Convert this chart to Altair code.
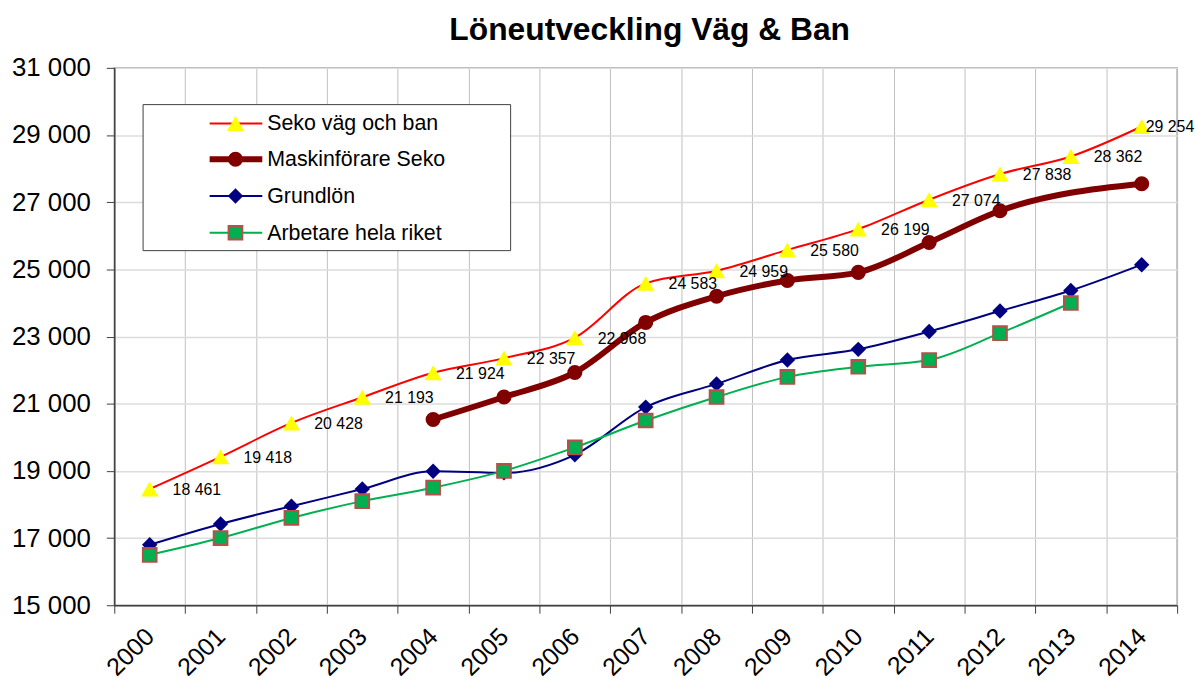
import altair as alt
import pandas as pd

years = list(range(2000, 2015))
series_names = ["Seko väg och ban", "Maskinförare Seko", "Grundlön", "Arbetare hela riket"]
seko = [18461, 19418, 20428, 21193, 21924, 22357, 22968, 24583, 24959, 25580, 26199, 27074, 27838, 28362, 29254]
maskin = [None, None, None, None, 20530, 21200, 21930, 23420, 24200, 24670, 24910, 25800, 26745, None, 27550]
grund = [16800, 17420, 17950, 18460, 18990, 18940, 19480, 20900, 21590, 22300, 22620, 23150, 23760, 24370, 25140]
arbet = [16500, 17000, 17600, 18100, 18500, 19000, 19700, 20500, 21200, 21800, 22100, 22300, 23100, 24000, None]
title_text = "Löneutveckling Väg & Ban"

FONT = "Liberation Sans"

rows = []
for name, vals in zip(series_names, [seko, maskin, grund, arbet]):
    for yr, v in zip(years, vals):
        if v is not None:
            rows.append({"year": yr, "value": v, "series": name})
df = pd.DataFrame(rows)

x_enc = alt.X(
    "year:O",
    scale=alt.Scale(type="band", paddingInner=0, paddingOuter=0),
    axis=alt.Axis(
        title=None, tickBand="extent", grid=True, gridColor="#c0c0c0", gridWidth=1,
        labelAngle=315, labelAlign="right", labelBaseline="middle",
        labelFontSize=25, labelPadding=19, labelFont=FONT, labelColor="black",
        tickSize=8, tickColor="#404040", domainColor="#404040", domainWidth=1.5,
    ),
)
y_enc = alt.Y(
    "value:Q",
    scale=alt.Scale(domain=[15000, 31000], nice=False, zero=False),
    axis=alt.Axis(
        title=None, values=list(range(15000, 31001, 2000)),
        labelExpr="replace(format(datum.value, ','), ',', ' ')",
        grid=True, gridColor="#dcdcdc", gridWidth=1.5,
        labelFontSize=26, labelPadding=16, labelFont=FONT, labelColor="black",
        tickSize=8, tickColor="#404040", domainColor="#404040", domainWidth=1.5,
    ),
)

base = alt.Chart(df).encode(x=x_enc, y=y_enc)


def sub(name):
    return base.transform_filter(alt.datum.series == name)


styles = {
    "Seko väg och ban": dict(line="#FF0000", lw=2, shape="triangle-up", fill="#FFFF00", stroke=None, size=300),
    "Maskinförare Seko": dict(line="#800000", lw=6, shape="circle", fill="#800000", stroke=None, size=230),
    "Grundlön": dict(line="#000080", lw=2, shape="diamond", fill="#000080", stroke=None, size=240),
    "Arbetare hela riket": dict(line="#00B050", lw=2, shape="square", fill="#00B050", stroke="#B5504A", size=190),
}


def point_kwargs(s):
    pk = dict(shape=s["shape"], filled=True, fill=s["fill"], size=s["size"], opacity=1)
    if s["stroke"]:
        pk.update(stroke=s["stroke"], strokeWidth=2)
    else:
        pk.update(strokeWidth=0)
    return pk


layers = []
for name in series_names:
    s = styles[name]
    layers.append(sub(name).mark_line(color=s["line"], strokeWidth=s["lw"], interpolate="monotone"))
    layers.append(sub(name).mark_point(**point_kwargs(s)))

label_calc = "replace(format(datum.value, ','), ',', ' ')"
labels = sub("Seko väg och ban").transform_filter(alt.datum.year < 2014).transform_calculate(
    label=label_calc
).mark_text(align="left", baseline="middle", dx=23, dy=1, fontSize=16, font=FONT, color="black").encode(
    text="label:N"
)
labels_last = sub("Seko väg och ban").transform_filter(alt.datum.year == 2014).transform_calculate(
    label=label_calc
).mark_text(align="left", baseline="middle", dx=4, dy=1, fontSize=16, font=FONT, color="black").encode(
    text="label:N"
)
layers += [labels, labels_last]

# title as text
layers.append(alt.Chart(pd.DataFrame({"t": [title_text]})).mark_text(
    align="center", baseline="alphabetic", fontSize=32, fontWeight="bold", font=FONT, color="black"
).encode(x=alt.value(539), y=alt.value(-28), text="t:N"))

# legend box
legend_box = alt.Chart(pd.DataFrame({"k": [0]})).mark_rect(
    fill="white", stroke="#404040", strokeWidth=1
).encode(x=alt.value(29), x2=alt.value(399), y=alt.value(37), y2=alt.value(184))
layers.append(legend_box)

legend_rows = [56, 92, 129, 166]
for name, ry in zip(series_names, legend_rows):
    s = styles[name]
    ldf = pd.DataFrame({"t": [name]})
    layers.append(alt.Chart(ldf).mark_rule(color=s["line"], strokeWidth=s["lw"]).encode(
        x=alt.value(96), x2=alt.value(149), y=alt.value(ry)))
    layers.append(alt.Chart(ldf).mark_point(**point_kwargs(s)).encode(x=alt.value(122), y=alt.value(ry)))
    layers.append(alt.Chart(ldf).mark_text(align="left", baseline="middle", fontSize=21.5, font=FONT, color="black").encode(
        x=alt.value(154), y=alt.value(ry + 1), text="t:N"))

chart = alt.layer(*layers).properties(
    width=1070,
    height=541,
    autosize=alt.AutoSizeParams(type="none"),
    padding={"left": 107, "top": 58, "right": 18, "bottom": 75},
).configure_view(stroke="#a6a6a6", strokeWidth=1.5)

chart.save("out.html", embed_options={"renderer": "svg", "actions": False})
